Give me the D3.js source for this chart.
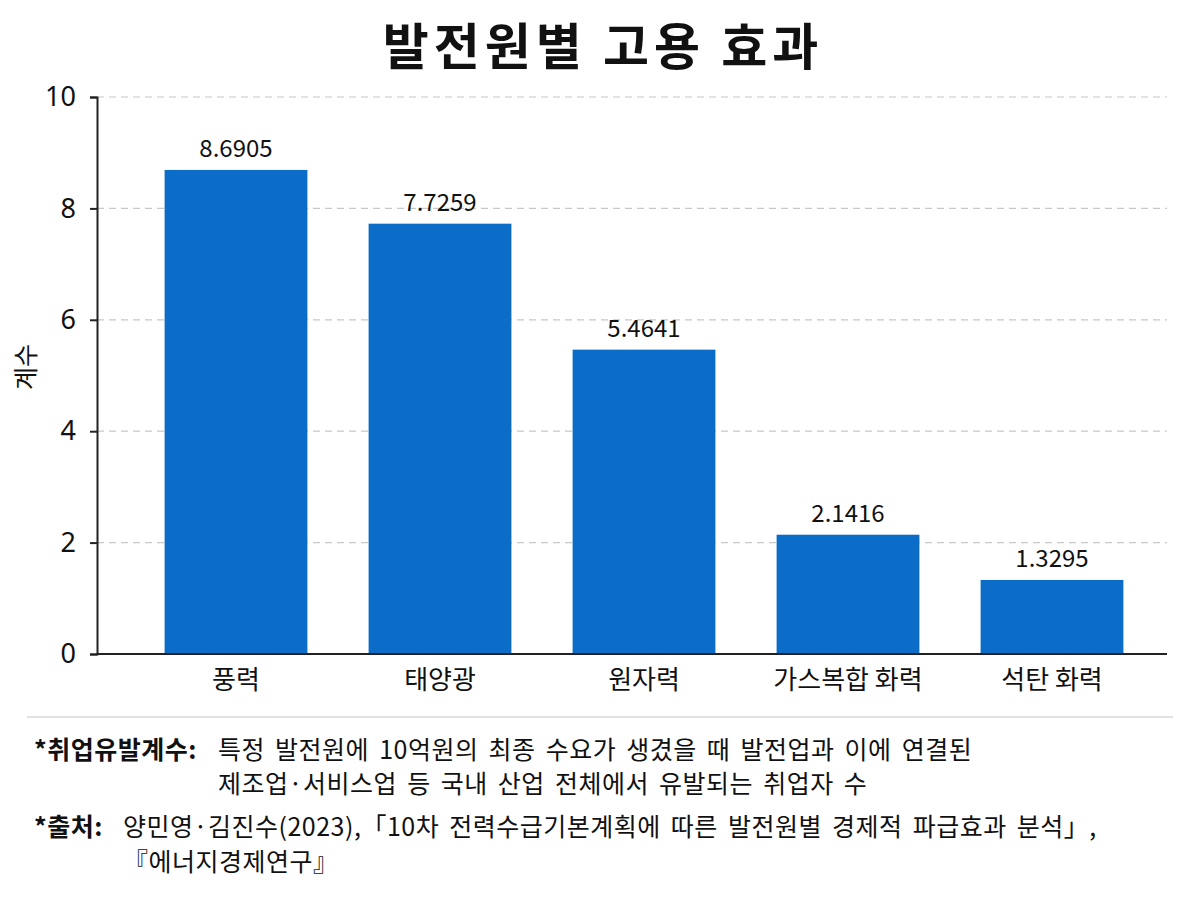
<!DOCTYPE html>
<html>
<head>
<meta charset="utf-8">
<script src="https://cdn.jsdelivr.net/npm/d3@7"></script>
<style>
  body { margin: 0; background: #fff; }
  svg text { font-family: "Noto Sans CJK KR", "Noto Sans", sans-serif; fill: #111; }
</style>
</head>
<body>
<svg id="canvas"></svg>
<script>
const categories = ["풍력", "태양광", "원자력", "가스복합 화력", "석탄 화력"];
const values = [8.6905, 7.7259, 5.4641, 2.1416, 1.3295];
const valueLabels = ["8.6905", "7.7259", "5.4641", "2.1416", "1.3295"];
const yTicks = [0, 2, 4, 6, 8, 10];

const width = 1200;
const height = 900;
const barColor = "#0b6dc7";

let svg = d3.select("#canvas")
            .attr("width", width)
            .attr("height", height);

const xScale = d3.scaleBand()
                 .domain(categories)
                 .range([134, 1154])
                 .paddingInner(0.3)
                 .paddingOuter(0.15);

const yScale = d3.scaleLinear()
                 .domain([0, 10])
                 .range([654, 97]);

// title
svg.append("text")
   .attr("x", 603)
   .attr("y", 65)
   .attr("text-anchor", "middle")
   .style("font-size", "50px")
   .style("font-weight", "bold")
   .style("letter-spacing", "5px")
   .text("발전원별 고용 효과");

// grid
svg.append("g")
   .selectAll("line")
   .data(yTicks.filter(d => d > 0))
   .enter()
   .append("line")
   .attr("x1", 97)
   .attr("x2", 1167)
   .attr("y1", d => yScale(d))
   .attr("y2", d => yScale(d))
   .attr("stroke", "#c8c8c8")
   .attr("stroke-width", 1.2)
   .attr("stroke-dasharray", "7,5");

// bars
svg.selectAll("rect.bar")
   .data(values)
   .enter()
   .append("rect")
   .attr("class", "bar")
   .attr("x", (d, i) => xScale(categories[i]))
   .attr("width", xScale.bandwidth())
   .attr("y", d => yScale(d))
   .attr("height", d => yScale(0) - yScale(d))
   .attr("fill", barColor);

svg.selectAll("text.value")
   .data(values)
   .enter()
   .append("text")
   .attr("class", "value")
   .attr("x", (d, i) => xScale(categories[i]) + xScale.bandwidth() / 2)
   .attr("y", d => yScale(d) - 13)
   .attr("text-anchor", "middle")
   .style("font-size", "24px")
   .text((d, i) => valueLabels[i]);

// y axis
const yAxis = d3.axisLeft(yScale)
                .tickValues(yTicks)
                .tickSize(7)
                .tickPadding(14)
                .tickFormat(d3.format("d"));
const yg = svg.append("g")
   .attr("transform", "translate(97, 0)")
   .call(yAxis);
yg.select(".domain").attr("stroke", "#222").attr("stroke-width", 2);
yg.selectAll(".tick line").attr("stroke", "#222").attr("stroke-width", 2);
yg.selectAll(".tick text")
  .style("font-size", "27px")
  .style("font-family", "'Noto Sans', sans-serif")
  .attr("fill", "#111");

// x axis
const xAxis = d3.axisBottom(xScale).tickSize(0).tickPadding(17);
const xg = svg.append("g")
   .attr("transform", "translate(0, 654)")
   .call(xAxis);
xg.select(".domain").remove();
xg.append("line")
  .attr("x1", 96).attr("x2", 1167)
  .attr("stroke", "#222").attr("stroke-width", 2);
xg.selectAll(".tick text")
  .style("font-size", "26px")
  .attr("fill", "#111");

// y label
svg.append("text")
   .attr("transform", "translate(35, 367) rotate(-90)")
   .attr("text-anchor", "middle")
   .style("font-size", "25px")
   .text("계수");

// separator
svg.append("line")
   .attr("x1", 27).attr("x2", 1173)
   .attr("y1", 717).attr("y2", 717)
   .attr("stroke", "#d8d8d8").attr("stroke-width", 1.5);

// notes
const notes = [
  { x: 34, y: 759, bold: "*취업유발계수:", rest: "특정 발전원에 10억원의 최종 수요가 생겼을 때 발전업과 이에 연결된", restX: 218 },
  { x: 218, y: 793, bold: "", rest: "제조업·서비스업 등 국내 산업 전체에서 유발되는 취업자 수", restX: 218 },
  { x: 34, y: 836, bold: "*출처:", rest: "양민영·김진수(2023),「10차 전력수급기본계획에 따른 발전원별 경제적 파급효과 분석」,", restX: 123 },
  { x: 123, y: 871, bold: "", rest: "『에너지경제연구』", restX: 123 }
];

notes.forEach(n => {
  if (n.bold) {
    svg.append("text")
       .attr("x", n.x).attr("y", n.y)
       .style("font-size", "25px")
       .style("font-weight", "bold")
       .style("letter-spacing", "0.5px")
       .text(n.bold);
  }
  svg.append("text")
     .attr("x", n.restX).attr("y", n.y)
     .style("font-size", "25px")
     .style("letter-spacing", "0.5px")
     .style("word-spacing", "4px")
     .text(n.rest);
});
</script>
</body>
</html>
